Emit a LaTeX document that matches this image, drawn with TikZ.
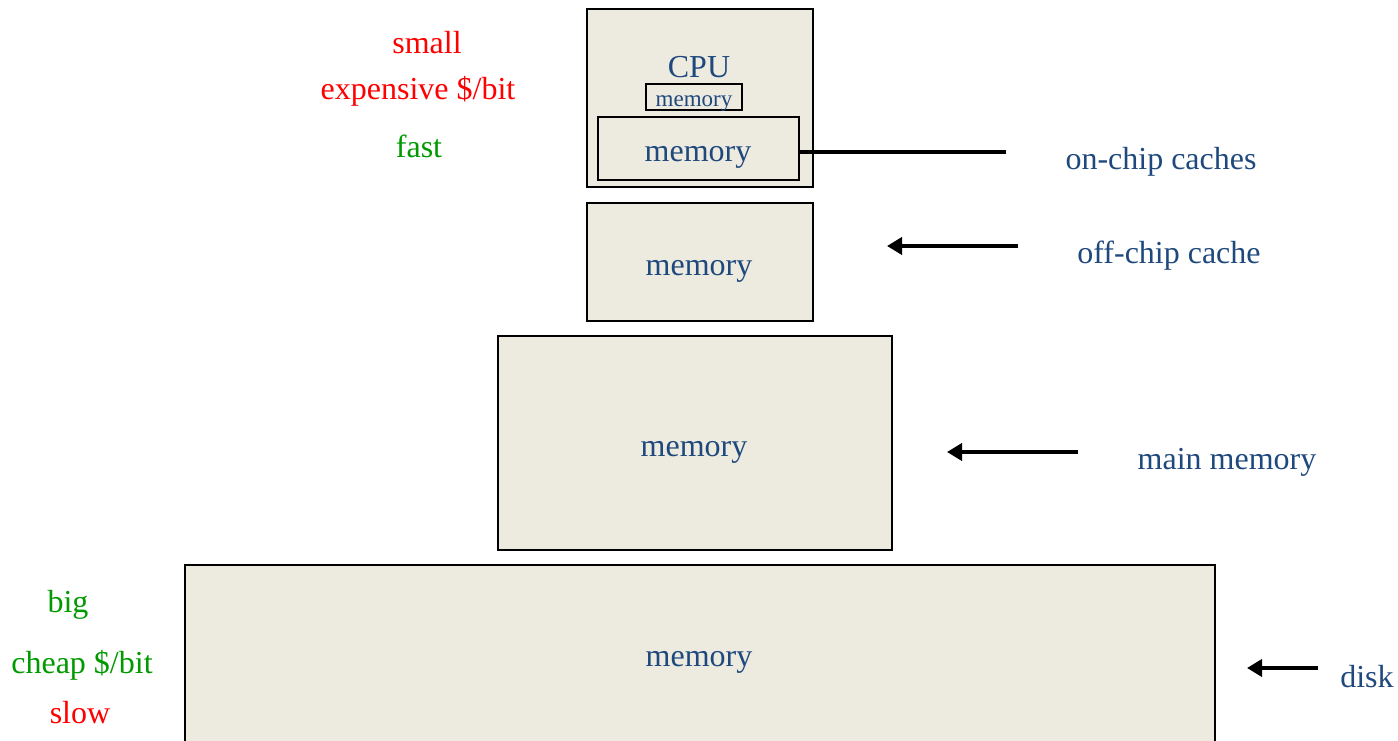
\documentclass[tikz,border=0pt]{standalone}
\usepackage{fontspec}
\setmainfont{Liberation Serif}
\usetikzlibrary{arrows.meta}
\definecolor{txtblue}{RGB}{31,73,125}
\definecolor{txtgreen}{RGB}{0,153,0}
\definecolor{boxfill}{RGB}{237,234,224}
\tikzset{
  box/.style={draw=black, line width=2.4pt, fill=boxfill},
  big/.style={font=\fontsize{32}{38}\selectfont, inner sep=0pt, yshift=-5pt},
  lbl/.style={big, text=txtblue},
  hot/.style={big, text=red},
  cool/.style={big, text=txtgreen},
  pointer/.style={line width=4pt, -{Triangle[length=15pt,width=17pt]}},
  bar/.style={line width=4pt}
}
\begin{document}
\begin{tikzpicture}[x=1pt,y=-1pt]
\useasboundingbox (0,0) rectangle (1398,741);
% boxes
\draw[box] (587,9) rectangle (813,187);
\draw[box] (646,84) rectangle (742,110);
\draw[box] (598,117) rectangle (799,180);
\draw[box] (587,203) rectangle (813,321);
\draw[box] (498,336) rectangle (892,550);
\draw[box] (185,565) rectangle (1215,745);
\coordinate (innerE) at (799,152);
% texts in boxes
\node[lbl] (cpu) at (699,62) {CPU};
\node[lbl, font=\fontsize{23}{27}\selectfont] (regmem) at (694,99) {memory};
\node[lbl] (l1mem) at (698,152) {memory};
\node[lbl] (l2mem) at (699,266) {memory};
\node[lbl] (mainmem) at (694,447) {memory};
\node[lbl] (diskmem) at (699,657) {memory};
% right labels
\node[lbl] (onchip) at (1161,157) {on-chip caches};
\node[lbl] (offchip) at (1169,251) {off-chip cache};
\node[lbl] (mainlbl) at (1227,457) {main memory};
\node[lbl] (disklbl) at (1367,672) {disk};
% left labels
\node[hot] (small) at (427,38) {small};
\node[hot] (expensive) at (418,86) {expensive \$/bit};
\node[cool] (fast) at (419,141) {fast};
\node[cool] (bigl) at (68,600) {big};
\node[cool] (cheap) at (82,660) {cheap \$/bit};
\node[hot] (slow) at (80,708) {slow};
% connectors
\coordinate (a1e) at (1006,152);
\draw[bar] (innerE) -- (a1e);
\coordinate (a2s) at (1018,246);
\coordinate (a2e) at (887,246);
\draw[pointer] (a2s) -- (a2e);
\coordinate (a3s) at (1078,452);
\coordinate (a3e) at (947,452);
\draw[pointer] (a3s) -- (a3e);
\coordinate (a4s) at (1318,668);
\coordinate (a4e) at (1247,668);
\draw[pointer] (a4s) -- (a4e);
\end{tikzpicture}
\end{document}
